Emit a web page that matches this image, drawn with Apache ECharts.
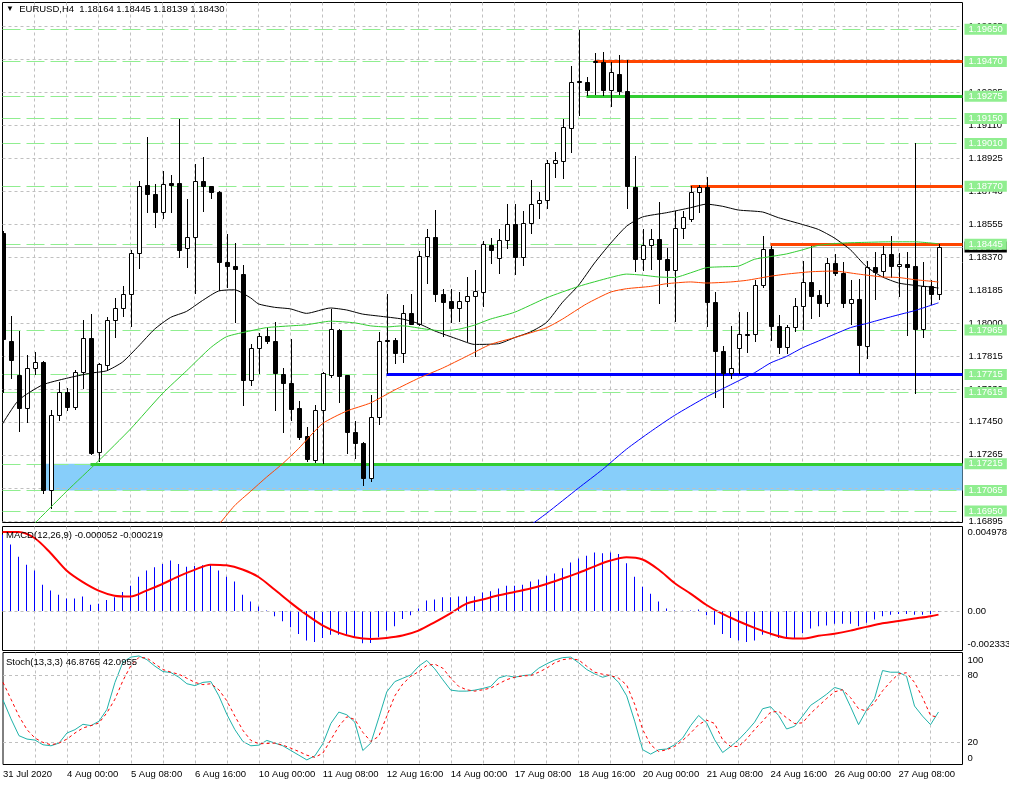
<!DOCTYPE html>
<html><head><meta charset="utf-8">
<script src="https://cdn.jsdelivr.net/npm/echarts/dist/echarts.min.js"></script>
<style>html,body{margin:0;padding:0;background:#fff}#c{width:1009px;height:786px}</style>
</head><body><div id="c"></div>
<script>
// ---------- data ----------
const dateLabels = ['31 Jul 2020','4 Aug 00:00','5 Aug 08:00','6 Aug 16:00','10 Aug 00:00','11 Aug 08:00','12 Aug 16:00','14 Aug 00:00','17 Aug 08:00','18 Aug 16:00','20 Aug 00:00','21 Aug 08:00','24 Aug 16:00','26 Aug 00:00','27 Aug 08:00'];

const opens = [1.18508,1.17903,1.17710,1.17530,1.17751,1.17785,1.17070,1.17486,1.17619,1.17533,
1.17732,1.17922,1.17282,1.17770,1.18020,1.18088,1.18168,1.18399,1.18777,1.18726,
1.18626,1.18789,1.18789,1.18423,1.18486,1.18798,1.18770,1.18740,1.18348,1.18323,
1.18281,1.17685,1.17865,1.17931,1.17903,1.17717,1.17670,1.17530,1.17373,1.17236,
1.17515,1.17710,1.17965,1.17710,1.17395,1.17331,1.17136,1.17475,1.17907,1.17908,
1.17836,1.18060,1.18001,1.18382,1.18486,1.18164,1.18126,1.18088,1.18126,1.18153,
1.18177,1.18442,1.18367,1.18467,1.18560,1.18372,1.18562,1.18675,1.18692,1.18900,
1.18910,1.19096,1.19358,1.19355,1.19465,1.19465,1.19308,1.19402,1.19304,1.18768,
1.18361,1.18442,1.18475,1.18363,1.18300,1.18537,1.18584,1.18740,1.18768,1.18124,
1.17846,1.17725,1.17865,1.17945,1.17941,1.18215,1.18418,1.17988,1.17869,1.17982,
1.18101,1.18234,1.18162,1.18117,1.18338,1.18285,1.18117,1.18139,1.17874,1.18319,
1.18295,1.18391,1.18323,1.18334,1.18323,1.17969,1.18209,1.18164];
const closes = [1.17912,1.17799,1.17530,1.17751,1.17785,1.17070,1.17486,1.17615,1.17533,1.17732,
1.17922,1.17278,1.17774,1.18020,1.18088,1.18164,1.18399,1.18774,1.18726,1.18626,
1.18783,1.18780,1.18414,1.18486,1.18802,1.18774,1.18736,1.18344,1.18323,1.18306,
1.17685,1.17865,1.17931,1.17903,1.17723,1.17666,1.17524,1.17367,1.17240,1.17515,
1.17723,1.17973,1.17708,1.17391,1.17329,1.17136,1.17475,1.17903,1.17903,1.17836,
1.18060,1.18001,1.18380,1.18486,1.18168,1.18124,1.18088,1.18126,1.18153,1.18183,
1.18448,1.18414,1.18467,1.18560,1.18376,1.18565,1.18670,1.18692,1.18900,1.18916,
1.19101,1.19355,1.19354,1.19308,1.19470,1.19308,1.19408,1.19304,1.18774,1.18361,
1.18442,1.18475,1.18361,1.18300,1.18537,1.18598,1.18740,1.18768,1.18124,1.17846,
1.17723,1.17750,1.17941,1.17938,1.18219,1.18418,1.17988,1.17869,1.17982,1.18101,
1.18234,1.18158,1.18117,1.18338,1.18285,1.18117,1.18139,1.17880,1.18319,1.18291,
1.18391,1.18323,1.18334,1.18319,1.17969,1.18209,1.18164,1.18430];
const highs = [1.18520,1.18045,1.17960,1.17827,1.17840,1.17793,1.17515,1.17675,1.17637,1.17742,
1.18020,1.18054,1.17780,1.18035,1.18143,1.18209,1.18414,1.18802,1.19048,1.18783,
1.18857,1.18834,1.19149,1.18698,1.18897,1.18935,1.18774,1.18745,1.18505,1.18452,
1.18329,1.17884,1.17950,1.17978,1.18007,1.17751,1.17916,1.17566,1.17420,1.17547,
1.17732,1.18083,1.17969,1.17713,1.17452,1.17335,1.17600,1.17954,1.18168,1.17922,
1.18105,1.18168,1.18410,1.18531,1.18637,1.18196,1.18196,1.18177,1.18262,1.18300,
1.18461,1.18480,1.18528,1.18670,1.18670,1.18632,1.18806,1.18740,1.18919,1.18963,
1.19149,1.19446,1.19648,1.19383,1.19516,1.19522,1.19465,1.19503,1.19478,1.18938,
1.18528,1.18528,1.18683,1.18423,1.18632,1.18632,1.18774,1.18777,1.18821,1.18177,
1.17874,1.17988,1.18064,1.18064,1.18247,1.18493,1.18433,1.18050,1.17994,1.18145,
1.18353,1.18433,1.18187,1.18367,1.18391,1.18348,1.18247,1.18253,1.18353,1.18404,
1.18437,1.18493,1.18399,1.18404,1.19010,1.18348,1.18247,1.18445];
const lows = [1.17618,1.17694,1.17401,1.17448,1.17720,1.17054,1.16965,1.17458,1.17515,1.17524,
1.17638,1.17268,1.17231,1.17742,1.17927,1.18045,1.17988,1.18310,1.18626,1.18543,
1.18594,1.18626,1.18376,1.18319,1.18172,1.18632,1.18707,1.18187,1.18206,1.18007,
1.17543,1.17657,1.17723,1.17893,1.17515,1.17395,1.17458,1.17354,1.17231,1.17225,
1.17221,1.17704,1.17562,1.17274,1.17249,1.17098,1.17117,1.17439,1.17723,1.17780,
1.17785,1.17997,1.17993,1.18228,1.18130,1.17931,1.18007,1.18016,1.17903,1.17817,
1.18101,1.18338,1.18285,1.18423,1.18281,1.18329,1.18509,1.18594,1.18651,1.18821,
1.18817,1.18963,1.19171,1.19279,1.19285,1.19279,1.19219,1.19285,1.18651,1.18295,
1.18300,1.18304,1.18115,1.18209,1.18013,1.18480,1.18575,1.18626,1.17988,1.17590,
1.17533,1.17694,1.17723,1.17840,1.17903,1.18206,1.17906,1.17836,1.17836,1.17960,
1.17969,1.18031,1.18041,1.18101,1.18272,1.18092,1.18001,1.17723,1.17808,1.18139,
1.18259,1.18259,1.18158,1.17937,1.17609,1.17925,1.18111,1.18139];

// moving averages: [bar index, value]
const maBlack = [[0,1.17439],[2,1.17571],[5,1.17657],[8,1.17694],[11,1.17723],[13,1.17736],[15,1.17785],[17,1.17874],[19,1.17969],[21,1.18035],[23,1.18069],[25,1.18130],[27,1.18183],[29,1.18190],[31,1.18145],[32,1.18111],[34,1.18092],[36,1.18083],[38,1.18058],[41,1.18088],[43,1.18077],[45,1.18054],[47,1.18043],[50,1.18026],[52,1.18001],[54,1.17960],[57,1.17912],[59,1.17884],[62,1.17888],[64,1.17922],[66,1.17954],[68,1.18007],[70,1.18120],[72,1.18215],[74,1.18340],[76,1.18450],[78,1.18546],[80,1.18598],[83,1.18622],[86,1.18650],[88,1.18670],[90,1.18658],[92,1.18637],[95,1.18626],[97,1.18594],[100,1.18556],[102,1.18528],[104,1.18480],[106,1.18414],[108,1.18319],[110,1.18262],[112,1.18228],[114,1.18215],[116,1.18206],[117,1.18200]];
const maGreen = [[4,1.16880],[8,1.17060],[12,1.17231],[16,1.17410],[20,1.17609],[23,1.17736],[26,1.17865],[28,1.17927],[31,1.17960],[33,1.17978],[36,1.17988],[38,1.17994],[41,1.18014],[44,1.18005],[46,1.17988],[48,1.17982],[50,1.17988],[53,1.17969],[55,1.17960],[57,1.17969],[59,1.17992],[61,1.18026],[64,1.18064],[68,1.18145],[72,1.18209],[76,1.18259],[78,1.18278],[80,1.18272],[82,1.18262],[84,1.18259],[86,1.18285],[88,1.18314],[90,1.18319],[92,1.18323],[94,1.18361],[96,1.18376],[98,1.18391],[100,1.18414],[102,1.18439],[105,1.18452],[108,1.18456],[111,1.18459],[114,1.18459],[117,1.18448]];
const maOrange = [[27,1.16871],[29,1.16980],[31,1.17060],[33,1.17140],[35,1.17215],[37,1.17300],[40,1.17440],[43,1.17510],[46,1.17556],[49,1.17628],[52,1.17694],[55,1.17751],[58,1.17817],[61,1.17884],[64,1.17922],[68,1.17978],[70,1.18026],[73,1.18111],[76,1.18177],[78,1.18196],[81,1.18209],[83,1.18224],[86,1.18234],[88,1.18228],[91,1.18234],[93,1.18243],[96,1.18266],[98,1.18278],[101,1.18291],[104,1.18295],[107,1.18278],[110,1.18262],[112,1.18259],[114,1.18247],[117,1.18234]];
const maBlue = [[66,1.16871],[68,1.16937],[72,1.17079],[75,1.17183],[78,1.17297],[81,1.17395],[84,1.17486],[88,1.17590],[90,1.17635],[92,1.17680],[94,1.17725],[96,1.17780],[98,1.17817],[100,1.17865],[102,1.17903],[104,1.17941],[106,1.17978],[108,1.18001],[110,1.18026],[112,1.18050],[114,1.18073],[117,1.18117]];

// price scale
const priceTicks = ['1.16895','1.17080','1.17265','1.17450','1.17630','1.17815','1.18000','1.18185','1.18370','1.18555','1.18740','1.18925','1.19110','1.19295','1.19480','1.19665'];
const levelPrices = ['1.19650','1.19470','1.19275','1.19150','1.19010','1.18770','1.18445','1.17965','1.17715','1.17615','1.17215','1.17065','1.16950'];
const lastPrice = '1.18430';
const trendPrices = [1.19470,1.19275,1.18770,1.18445,1.17715,1.17215];
const trendStartBars = [74,73,86,96,48,11];
const zoneTop = 1.17215, zoneBottom = 1.17065, zoneStartBar = 5;

// MACD
const macdHist = [0.00450,0.00391,0.00320,0.00273,0.00238,0.00155,0.00120,0.00096,0.00073,0.00073,
0.00085,0.00037,0.00043,0.00065,0.00081,0.00112,0.00149,0.00202,0.00238,0.00257,
0.00277,0.00297,0.00277,0.00261,0.00265,0.00269,0.00277,0.00238,0.00202,0.00173,
0.00096,0.00055,0.00026,0.00002,-0.00031,-0.00061,-0.00096,-0.00136,-0.00175,-0.00183,
-0.00159,-0.00140,-0.00140,-0.00140,-0.00155,-0.00191,-0.00189,-0.00155,-0.00116,-0.00090,
-0.00047,-0.00026,0.00014,0.00061,0.00067,0.00081,0.00081,0.00085,0.00085,0.00086,
0.00108,0.00116,0.00132,0.00149,0.00149,0.00155,0.00173,0.00185,0.00208,0.00220,
0.00252,0.00285,0.00309,0.00326,0.00344,0.00340,0.00344,0.00336,0.00281,0.00202,
0.00143,0.00102,0.00055,0.00014,0.00002,0.00001,0.00002,0.00008,-0.00026,-0.00081,
-0.00136,-0.00159,-0.00175,-0.00183,-0.00175,-0.00140,-0.00143,-0.00159,-0.00159,-0.00159,
-0.00132,-0.00104,-0.00090,-0.00086,-0.00075,-0.00075,-0.00075,-0.00090,-0.00069,-0.00051,
-0.00031,-0.00022,-0.00018,-0.00018,-0.00022,-0.00022,-0.00020,-0.000052];
const macdSignal = [[0,0.00466],[2,0.00466],[4,0.00430],[6,0.00342],[8,0.00238],[10,0.00171],[12,0.00120],[14,0.00090],[16,0.00085],[18,0.00120],[20,0.00159],[22,0.00204],[24,0.00242],[26,0.00273],[28,0.00269],[30,0.00244],[32,0.00200],[34,0.00126],[36,0.00049],[38,-0.00022],[40,-0.00085],[42,-0.00128],[44,-0.00155],[46,-0.00165],[48,-0.00159],[50,-0.00145],[52,-0.00116],[54,-0.00067],[56,-0.00014],[58,0.00043],[60,0.00067],[62,0.00092],[64,0.00112],[66,0.00132],[68,0.00159],[70,0.00191],[72,0.00224],[74,0.00263],[76,0.00297],[78,0.00316],[80,0.00303],[82,0.00244],[84,0.00165],[86,0.00102],[88,0.00035],[90,-0.00018],[92,-0.00061],[94,-0.00100],[96,-0.00134],[98,-0.00159],[100,-0.00163],[102,-0.00147],[104,-0.00134],[106,-0.00116],[108,-0.00094],[110,-0.00073],[112,-0.00059],[114,-0.00045],[116,-0.00031],[117,-0.000219]];
const macdMax = 0.004978, macdMin = -0.002333;

// Stochastic
const stochMain = [57.6,40.8,25.7,22.7,21.8,17.6,16.7,19.1,28.1,31.1,
35.9,34.7,38.6,49.2,73.3,91.4,95.9,96.9,93.6,87.8,
83.0,82.1,77.9,72.1,70.4,73.3,74.0,61.3,44.7,31.1,
20.6,16.7,17.3,21.5,19.1,16.7,12.5,8.3,4.1,7.7,
18.5,36.6,46.8,44.4,37.8,12.5,19.1,41.7,64.9,74.0,
77.0,80.0,87.8,92.9,85.4,75.7,66.4,65.5,65.5,66.4,
67.9,69.7,77.3,79.4,77.9,79.4,80.0,86.0,89.9,93.3,
95.4,95.9,90.8,84.8,80.9,77.9,80.0,73.3,61.3,38.7,
13.2,9.3,13.2,13.8,17.6,23.6,34.7,43.8,37.2,22.1,
10.7,16.1,22.1,29.6,37.8,49.8,51.6,43.8,31.7,34.1,
43.2,52.8,57.6,62.7,68.8,66.7,51.6,35.6,48.6,58.9,
83.9,82.4,82.4,78.8,52.2,43.2,35.6,46.8765];
const stochSignal = [73.3,58.3,43.2,31.1,23.6,19.7,17.6,19.1,22.7,28.1,
32.6,34.7,37.1,46.2,58.3,74.9,88.4,95.6,95.1,89.9,
84.8,82.4,80.6,77.0,73.3,71.3,72.1,66.7,56.8,43.2,
30.5,21.5,18.5,18.8,19.1,17.3,14.6,11.6,8.3,6.4,
10.1,22.1,34.1,42.6,40.2,28.7,20.6,25.2,43.2,61.3,
71.9,78.8,83.0,88.4,89.6,86.0,77.0,69.7,66.7,65.5,
66.7,68.2,72.1,75.8,77.9,79.1,79.4,82.4,86.0,90.8,
93.6,94.5,93.3,87.8,82.4,80.6,79.4,77.0,71.0,53.8,
31.2,17.6,11.6,13.2,16.1,21.5,28.1,35.6,39.6,36.6,
22.1,16.1,16.1,22.7,31.2,38.7,46.8,47.4,41.7,36.6,
37.2,45.6,52.2,58.9,64.9,66.7,59.7,49.8,47.7,55.3,
65.8,73.9,80.9,81.9,73.3,59.8,43.8,42.0955];
const stochLevels = ['80','20'];
const stochEnds = ['100','0'];

// ---------- chart ----------
const FONT = '"Liberation Sans", Arial, sans-serif';
const FS = 9.5;
const BAR_SLOTS = 120;
const trendColors = ['#FF4500','#32CD32','#FF4500','#FF4500','#0000FF','#32CD32'];
const CLEAR = 'rgba(0,0,0,0)';

function renderCandle(params, api) {
  const k = api.value(0), o = api.value(1), c = api.value(2), l = api.value(3), h = api.value(4);
  const pO = api.coord([k, o]), pC = api.coord([k, c]), pH = api.coord([k, h]), pL = api.coord([k, l]);
  const x = Math.round(pO[0]) + 0.5;
  const yTop = Math.round(Math.min(pO[1], pC[1])) + 0.5;
  const yBot = Math.round(Math.max(pO[1], pC[1])) + 0.5;
  const bull = c > o;
  return {
    type: 'group',
    children: [
      {type: 'line', shape: {x1: x, y1: Math.round(pH[1]), x2: x, y2: Math.round(pL[1]) + 1}, style: {stroke: '#000', lineWidth: 1}},
      {type: 'rect', shape: {x: x - 2, y: yTop, width: 4, height: yBot - yTop}, style: {fill: bull ? '#fff' : '#000', stroke: '#000', lineWidth: 1}}
    ]
  };
}

const gridLine = {color: '#c0c0c0', type: [3, 3], width: 1};
const xAxes = [0, 1, 2].map(i => ({
  type: 'value', gridIndex: i, min: 0, max: BAR_SLOTS, interval: 4,
  axisLine: {show: false}, axisTick: {show: false},
  axisLabel: i === 2 ? {
    show: true, align: 'left', margin: 5, fontSize: FS, color: '#000', fontFamily: FONT,
    formatter: v => (v % 8 === 0 && dateLabels[v / 8]) ? dateLabels[v / 8] : ''
  } : {show: false},
  splitLine: {show: true, showMinLine: false, showMaxLine: false, lineStyle: gridLine}
}));
const hiddenY = {axisLine: {show: false}, axisTick: {show: false}, axisLabel: {show: false}, splitLine: {show: false}};

const lblBase = {show: true, position: 'end', fontSize: FS, fontFamily: FONT};
const mlBase = {silent: true, symbol: ['none', 'none'], precision: 8, animation: false};
const titleStyle = {fontSize: FS, fontWeight: 'normal', color: '#000', fontFamily: FONT};

const option = {
  animation: false,
  backgroundColor: '#fff',
  textStyle: {fontFamily: FONT},
  title: [
    {text: '{t|▼}  EURUSD,H4  1.18164 1.18445 1.18139 1.18430', left: 6, top: 4, padding: 0,
      textStyle: Object.assign({}, titleStyle, {rich: {t: {fontSize: 8, color: '#000'}}})},
    {text: 'MACD(12,26,9) -0.000052 -0.000219', left: 6, top: 530, padding: 0, textStyle: titleStyle},
    {text: 'Stoch(13,3,3) 46.8765 42.0955', left: 6, top: 657, padding: 0, textStyle: titleStyle}
  ],
  grid: [
    {left: 2.5, top: 2.5, width: 960, height: 520, show: true, borderColor: '#000', borderWidth: 1, backgroundColor: 'transparent'},
    {left: 2.5, top: 526.5, width: 960, height: 124, show: true, borderColor: '#000', borderWidth: 1, backgroundColor: 'transparent'},
    {left: 2.5, top: 652.5, width: 960, height: 112, show: true, borderColor: '#000', borderWidth: 1, backgroundColor: 'transparent'}
  ],
  xAxis: xAxes,
  yAxis: [
    Object.assign({type: 'value', gridIndex: 0, min: 1.16886, max: 1.19800}, hiddenY),
    Object.assign({type: 'value', gridIndex: 1, min: macdMin, max: macdMax}, hiddenY),
    Object.assign({type: 'value', gridIndex: 2, min: 0, max: 100}, hiddenY)
  ],
  series: [
    // price grid + zone
    {type: 'line', xAxisIndex: 0, yAxisIndex: 0, data: [[-10, 1.18]], symbol: 'none', clip: false, z: 1,
      lineStyle: {width: 0}, silent: true,
      markArea: {silent: true, itemStyle: {color: '#87CEFA', opacity: 1},
        data: [[{coord: [zoneStartBar, zoneTop]}, {coord: [BAR_SLOTS, zoneBottom]}]]},
      markLine: Object.assign({}, mlBase, {lineStyle: gridLine,
        label: Object.assign({}, lblBase, {distance: 6, color: '#000'}),
        data: priceTicks.map(t => ({yAxis: +t, label: {formatter: t}}))})
    },
    // last price
    {type: 'line', xAxisIndex: 0, yAxisIndex: 0, data: [[-10, 1.18]], symbol: 'none', clip: false, z: 2,
      lineStyle: {width: 0}, silent: true,
      markLine: Object.assign({}, mlBase, {lineStyle: {color: '#c0c0c0', type: 'solid', width: 1},
        label: Object.assign({}, lblBase, {distance: 2, color: '#fff', backgroundColor: '#000', padding: [1, 4, 0, 4], lineHeight: 10}),
        data: [{yAxis: +lastPrice, label: {formatter: lastPrice}}]})
    },
    // green levels with boxes
    {type: 'line', xAxisIndex: 0, yAxisIndex: 0, data: [[-10, 1.18]], symbol: 'none', clip: false, z: 3,
      lineStyle: {width: 0}, silent: true,
      markLine: Object.assign({}, mlBase, {lineStyle: {color: '#90EE90', type: [18, 6], width: 1},
        label: Object.assign({}, lblBase, {distance: 2, color: '#fff', backgroundColor: '#90EE90', padding: [1, 4, 0, 4], lineHeight: 10}),
        data: levelPrices.map(t => ({yAxis: +t, label: {formatter: t}}))})
    },
    // thick trend lines
    {type: 'line', xAxisIndex: 0, yAxisIndex: 0, data: [[-10, 1.18]], symbol: 'none', clip: false, z: 4,
      lineStyle: {width: 0}, silent: true,
      markLine: Object.assign({}, mlBase, {label: {show: false},
        data: trendPrices.map((p, i) => [
          {coord: [trendStartBars[i], p], lineStyle: {color: trendColors[i], width: 3, type: 'solid'}},
          {coord: [BAR_SLOTS, p]}
        ])})
    },
    // candles
    {type: 'custom', xAxisIndex: 0, yAxisIndex: 0, z: 5, clip: true, silent: true,
      renderItem: renderCandle,
      encode: {x: 0, y: [1, 2, 3, 4]},
      data: opens.map((o, i) => [i, o, closes[i], lows[i], highs[i]])},
    // moving averages
    {type: 'line', xAxisIndex: 0, yAxisIndex: 0, z: 6, data: maBlack, showSymbol: false, smooth: 0.2, lineStyle: {color: '#000', width: 1}, silent: true},
    {type: 'line', xAxisIndex: 0, yAxisIndex: 0, z: 6, data: maGreen, showSymbol: false, smooth: 0.2, lineStyle: {color: '#32CD32', width: 1}, silent: true},
    {type: 'line', xAxisIndex: 0, yAxisIndex: 0, z: 6, data: maOrange, showSymbol: false, smooth: 0.2, lineStyle: {color: '#FF4500', width: 1}, silent: true},
    {type: 'line', xAxisIndex: 0, yAxisIndex: 0, z: 6, data: maBlue, showSymbol: false, smooth: 0.2, lineStyle: {color: '#0000FF', width: 1}, silent: true},

    // MACD
    {type: 'line', xAxisIndex: 1, yAxisIndex: 1, data: [[-10, 0]], symbol: 'none', clip: false, z: 1,
      lineStyle: {width: 0}, silent: true,
      markLine: Object.assign({}, mlBase, {
        label: Object.assign({}, lblBase, {distance: 5, color: '#000', lineHeight: 12}),
        data: [
          {yAxis: 0, lineStyle: gridLine, label: {formatter: '0.00'}},
          {yAxis: macdMax, lineStyle: {color: CLEAR, width: 0}, label: {formatter: '\n' + String(macdMax)}},
          {yAxis: macdMin, lineStyle: {color: CLEAR, width: 0}, label: {formatter: String(macdMin) + '\n'}}
        ]})
    },
    {type: 'bar', xAxisIndex: 1, yAxisIndex: 1, z: 3, barWidth: 1, silent: true,
      itemStyle: {color: '#0000FF'},
      data: macdHist.map((v, i) => [i, v])},
    {type: 'line', xAxisIndex: 1, yAxisIndex: 1, z: 4, data: macdSignal, showSymbol: false, smooth: 0.3,
      lineStyle: {color: '#FF0000', width: 2}, silent: true},

    // Stochastic
    {type: 'line', xAxisIndex: 2, yAxisIndex: 2, data: [[-10, 50]], symbol: 'none', clip: false, z: 1,
      lineStyle: {width: 0}, silent: true,
      markLine: Object.assign({}, mlBase, {
        label: Object.assign({}, lblBase, {distance: 5, color: '#000'}),
        data: stochLevels.map(t => ({yAxis: +t, lineStyle: gridLine, label: {formatter: t}})).concat([
          {yAxis: +stochEnds[0], lineStyle: {color: CLEAR, width: 0}, label: {formatter: '\n' + stochEnds[0], lineHeight: 16}},
          {yAxis: +stochEnds[1], lineStyle: {color: CLEAR, width: 0}, label: {formatter: stochEnds[1] + '\n', lineHeight: 12}}
        ])})
    },
    {type: 'line', xAxisIndex: 2, yAxisIndex: 2, z: 4, data: stochMain.map((v, i) => [i, v]), showSymbol: false,
      lineStyle: {color: '#20B2AA', width: 1}, silent: true},
    {type: 'line', xAxisIndex: 2, yAxisIndex: 2, z: 5, data: stochSignal.map((v, i) => [i, v]), showSymbol: false,
      lineStyle: {color: '#FF0000', width: 1, type: [3, 3]}, silent: true}
  ]
};

const chart = echarts.init(document.getElementById('c'), null, {renderer: 'canvas'});
chart.setOption(option);
</script>
</body></html>
